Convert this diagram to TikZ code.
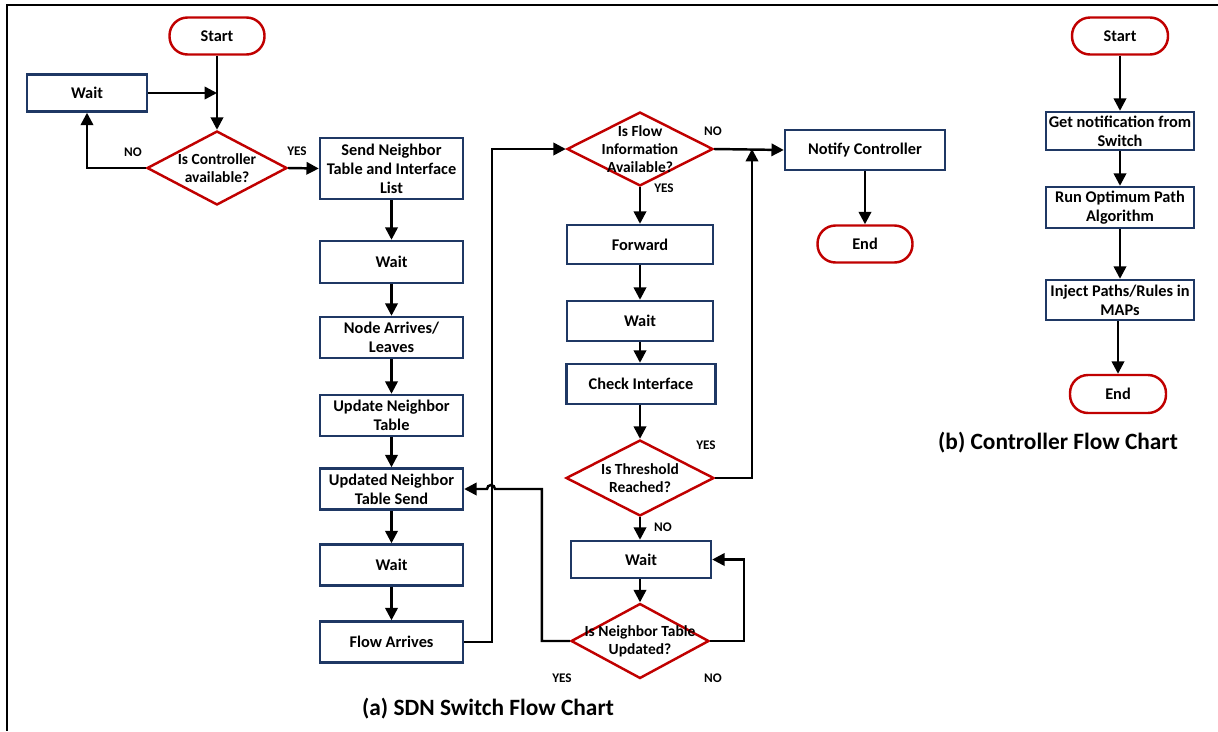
\documentclass[tikz,border=0pt]{standalone}
\usepackage{fontspec}
\setmainfont{Carlito}
\usetikzlibrary{shapes.geometric,arrows.meta}
\definecolor{boxblue}{RGB}{31,56,100}
\definecolor{termred}{RGB}{192,0,0}
\begin{document}
\begin{tikzpicture}[x=0.02cm,y=-0.02cm]
  \tikzstyle{every node}=[font=\bfseries\fontsize{9.3}{10.8}\selectfont]
  \tikzstyle{process}=[draw=boxblue, line width=1.4pt, fill=white, align=center,
    inner sep=1pt, minimum width=2.86cm, minimum height=0.82cm]
  \tikzstyle{terminal}=[draw=termred, line width=1.4pt, rounded corners=0.36cm,
    minimum width=1.9cm, minimum height=0.74cm]
  \tikzstyle{decision}=[diamond, draw=termred, line width=1.4pt, inner sep=0pt,
    minimum width=2.8cm, minimum height=1.48cm]
  \tikzstyle{dtext}=[align=center, font=\bfseries\fontsize{8.8}{10.2}\selectfont]
  \tikzstyle{tag}=[font=\bfseries\fontsize{7.5}{8}\selectfont]
  \tikzstyle{caption}=[font=\bfseries\fontsize{13.3}{15}\selectfont]
  \tikzstyle{flow}=[line width=1.4pt, -{Triangle[length=7pt,width=7pt]}]
  \useasboundingbox (0,0) rectangle (1218,731);
  \draw[line width=1.2pt] (1218,5) -- (7,5) -- (7,731);

  % (a) switch
  \node[terminal] (start1) at (217,36) {Start};
  \node[process, minimum width=2.4cm, minimum height=0.74cm] (wait1) at (87,93) {Wait};
  \node[decision, label={[dtext]center:Is Controller\\available?}] (cd) at (217,168) {};
  \node[process, minimum height=1.22cm] (send) at (391.5,168.5) {Send Neighbor\\Table and Interface\\List};
  \node[process, minimum height=0.84cm] (wait2) at (391.5,262) {Wait};
  \node[process] (arr) at (391.5,337.5) {Node Arrives/\\Leaves};
  \node[process] (upd) at (391.5,415.5) {Update Neighbor\\Table};
  \node[process] (uts) at (391.5,489) {Updated Neighbor\\Table Send};
  \node[process] (wait3) at (391.5,565) {Wait};
  \node[process] (fa) at (391.5,642) {Flow Arrives};

  \node[decision, minimum width=2.92cm, label={[dtext]center:Is Flow\\Information\\Available?}] (fid) at (640,149) {};
  \node[process, minimum width=2.92cm, minimum height=0.78cm] (fwd) at (640,244.5) {Forward};
  \node[process, minimum width=2.92cm, minimum height=0.8cm] (wait4) at (640,321) {Wait};
  \node[process, minimum width=2.98cm, minimum height=0.8cm] (chk) at (641,384) {Check Interface};
  \node[decision, minimum width=2.96cm, minimum height=1.52cm, label={[dtext]center:Is Threshold\\Reached?}] (th) at (640,478) {};
  \node[process, minimum width=2.8cm, minimum height=0.74cm] (wait5) at (641,559.5) {Wait};
  \node[decision, minimum width=2.76cm, minimum height=1.5cm, label={[dtext]center:Is Neighbor Table\\Updated?}] (nt) at (640,641) {};

  \node[process, minimum width=3.2cm, minimum height=0.8cm] (nc) at (865,150) {Notify Controller};
  \node[terminal] (end1) at (865,244) {End};

  \node[tag] (no1) at (133,152) {NO};
  \node[tag] (yes1) at (297,151) {YES};
  \node[tag] (no2) at (713,131) {NO};
  \node[tag] (yes2) at (664,188) {YES};
  \node[tag] (yes3) at (706,445) {YES};
  \node[tag] (no3) at (663,527) {NO};
  \node[tag] (yes4) at (562,678) {YES};
  \node[tag] (no4) at (713,678) {NO};

  \node[caption] (capA) at (488,709) {(a) SDN Switch Flow Chart};

  \coordinate (m1) at (start1.south |- wait1.east);
  \coordinate (join) at (752,149);
  \coordinate (hop) at (495,489);
  \draw[flow] (start1.south) -- (cd.north);
  \draw[flow] (wait1.east) -- (m1);
  \draw[flow] (cd.west) -| (wait1.south);
  \draw[flow] (cd.east) -- (send.west);
  \draw[flow] (send) -- (wait2);
  \draw[flow] (wait2) -- (arr);
  \draw[flow] (arr) -- (upd);
  \draw[flow] (upd) -- (uts);
  \draw[flow] (uts) -- (wait3);
  \draw[flow] (wait3) -- (fa);
  \draw[flow] (fa.east) -- ++(28,0) |- (fid.west);
  \draw[flow] (fid.south) -- (fwd.north);
  \draw[flow] (fwd) -- (wait4);
  \draw[flow] (wait4) -- (chk.north -| wait4.south);
  \draw[flow] (chk.south -| th.north) -- (th.north);
  \draw[flow] (th.south) -- (wait5.north -| th.south);
  \draw[flow] (wait5.south -| nt.north) -- (nt.north);
  \draw[flow] (fid.east) -- (nc.west);
  \draw[flow] (th.east) -| (join);
  \draw[flow] (nt.east) -- ++(34,0) |- (wait5.east);
  \draw[flow] (nt.west) -- ++(-28,0) |- (hop)
    arc[start angle=0, end angle=180, radius=0.08cm] -- (uts.east);
  \draw[flow] (nc) -- (end1);

  % (b) controller
  \node[terminal, minimum width=1.92cm] (start2) at (1120,36) {Start};
  \node[process, minimum width=2.96cm, minimum height=0.76cm] (gn) at (1120,131) {Get notification from\\Switch};
  \node[process, minimum width=2.96cm] (ro) at (1120,207.5) {Run Optimum Path\\Algorithm};
  \node[process, minimum width=2.96cm, minimum height=0.8cm] (ij) at (1120,300) {Inject Paths/Rules in\\MAPs};
  \node[terminal, minimum width=1.92cm, minimum height=0.76cm] (end2) at (1118,394) {End};
  \node[caption] (capB) at (1058,443) {(b) Controller Flow Chart};

  \draw[flow] (start2) -- (gn);
  \draw[flow] (gn) -- (ro);
  \draw[flow] (ro) -- (ij);
  \draw[flow] (end2.north |- ij.south) -- (end2.north);
\end{tikzpicture}
\end{document}
